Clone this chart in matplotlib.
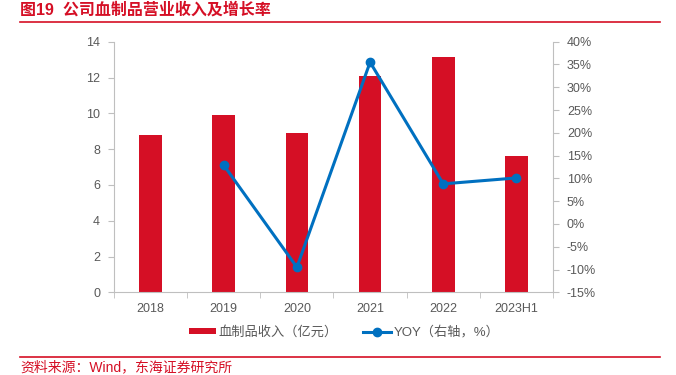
import matplotlib.pyplot as plt
import numpy as np
from matplotlib.ticker import FuncFormatter, FixedLocator

plt.rcParams['font.family'] = ['Liberation Sans', 'Noto Sans CJK SC']

# data
years = ["2018", "2019", "2020", "2021", "2022", "2023H1"]
revenue = [8.76, 9.88, 8.92, 12.10, 13.15, 7.60]  # 亿元
yoy_years = ["2019", "2020", "2021", "2022", "2023H1"]
yoy = [12.9, -9.5, 35.5, 8.8, 10.1]  # %

red = '#D50F25'
blue = '#0070C0'
grey = '#595959'
spine = '#BFBFBF'

fig = plt.figure(figsize=(6.76, 3.75), dpi=100)
W, H = 676, 375
ax = fig.add_axes([114 / W, 1 - 292.3 / H, (553 - 114) / W, (292.3 - 41.7) / H])

x = np.arange(len(years))
ax.bar(x, revenue, width=0.31, color=red, zorder=2, label='血制品收入（亿元）')
ax.set_xlim(-0.5, len(years) - 0.5)
ax.set_ylim(0, 14)
ax.set_yticks(range(0, 15, 2))
ax.set_xticks(x)
ax.set_xticklabels(years)
ax.xaxis.set_minor_locator(FixedLocator(np.arange(-0.5, len(years), 1)))
ax.tick_params(axis='x', which='major', length=0, pad=8, labelsize=9, labelcolor=grey)
ax.tick_params(axis='x', which='minor', length=4, color=spine)
ax.tick_params(axis='y', length=4, color=spine, labelsize=9, labelcolor=grey, pad=6)
for s in ['top', 'right']:
    ax.spines[s].set_visible(False)
for s in ['left', 'bottom']:
    ax.spines[s].set_color(spine)

ax2 = ax.twinx()
xi = [years.index(y) for y in yoy_years]
ax2.plot(xi, yoy, color=blue, lw=2.2, marker='o', ms=6, zorder=3, label='YOY（右轴，%）')
ax2.set_ylim(-15, 40)
ax2.set_yticks(range(-15, 41, 5))
ax2.yaxis.set_major_formatter(FuncFormatter(lambda v, p: f'{int(v)}%'))
ax2.tick_params(axis='y', length=4, color=spine, labelsize=9, labelcolor=grey, pad=6)
for s in ['top', 'left', 'bottom']:
    ax2.spines[s].set_visible(False)
ax2.spines['right'].set_color(spine)

h1, l1 = ax.get_legend_handles_labels()
h2, l2 = ax2.get_legend_handles_labels()
fig.legend(h1 + h2, l1 + l2, loc='center', bbox_to_anchor=(344 / W, 1 - 332 / H),
           ncol=2, frameon=False, fontsize=9.5, labelcolor=grey,
           handlelength=2.1, handleheight=0.35, columnspacing=1.9, handletextpad=0.2)

# title and source
fig.text(20 / W, 1 - 10 / H, '图19  公司血制品营业收入及增长率', color=red,
         fontsize=11.5, fontweight='bold', va='center', ha='left')
fig.add_artist(plt.Line2D([20 / W, 660 / W], [1 - 22 / H, 1 - 22 / H], color=red, lw=1.2))
fig.add_artist(plt.Line2D([20 / W, 660 / W], [1 - 357 / H, 1 - 357 / H], color=red, lw=1.2))
fig.text(20 / W, 1 - 367 / H, '资料来源：Wind，东海证券研究所', color=red,
         fontsize=10, va='center', ha='left')

fig.savefig('out.png', dpi=100)
